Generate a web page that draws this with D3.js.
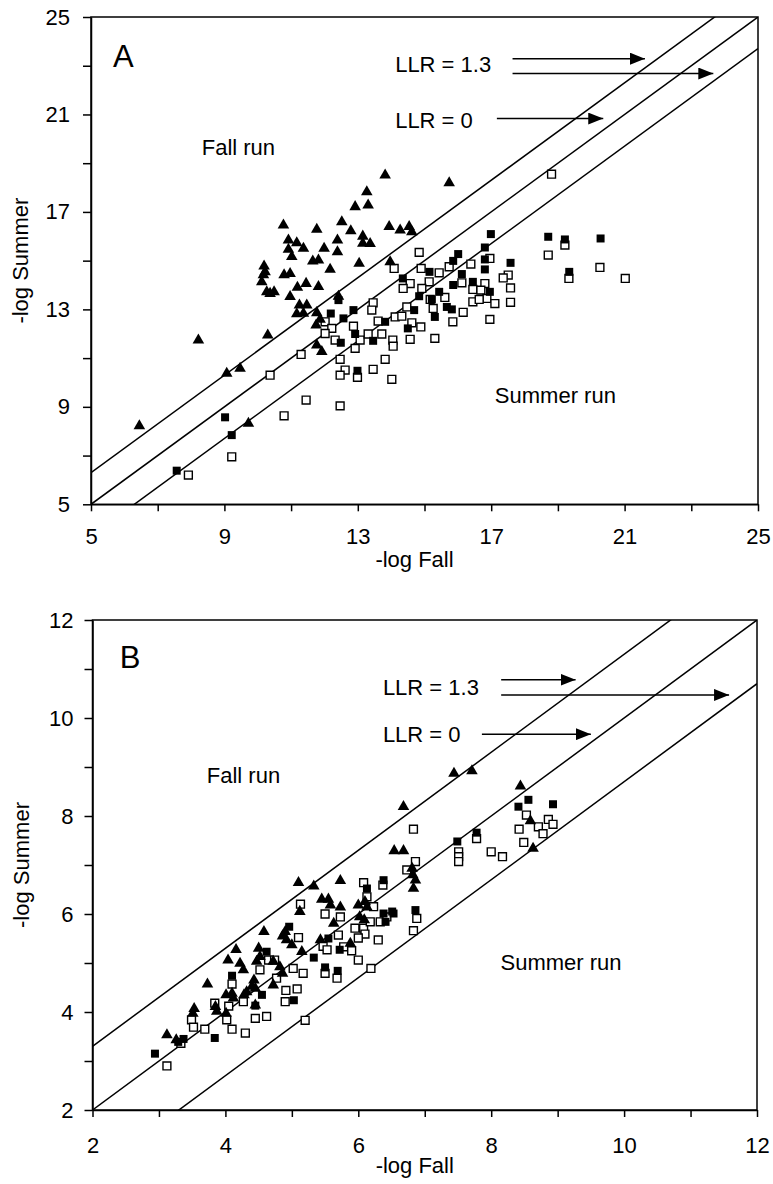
<!DOCTYPE html>
<html>
<head>
<meta charset="utf-8">
<script src="https://cdn.jsdelivr.net/npm/d3@7"></script>
<style>
  body { margin: 0; background: #fff; }
  svg text { font-family: Arial, "Liberation Sans", sans-serif; fill: #000; }
</style>
</head>
<body>
<svg id="chart" width="773" height="1184"></svg>
<script>
// ---- data: [ -log Fall, -log Summer ] ----
// panel A
const aTriangles = [[13.27,17.82],[12.92,17.21],[13.31,17.28],[10.77,16.46],[11.77,16.28],[12.52,16.59],[12.79,16.22],[13.15,16.0],[13.15,15.71],[12.39,15.84],[11.17,15.73],[11.37,15.5],[10.92,15.46],[11.02,15.16],[11.99,15.5],[12.39,15.36],[11.65,14.98],[11.82,15.02],[12.17,14.64],[13.04,14.89],[10.19,14.77],[10.22,14.54],[10.17,14.41],[10.12,14.13],[10.79,14.41],[10.97,14.47],[10.27,13.72],[10.37,13.65],[10.49,13.72],[11.19,13.9],[11.45,14.06],[11.82,13.93],[10.97,13.52],[11.25,13.17],[11.47,13.17],[11.17,12.81],[11.37,12.83],[11.77,12.86],[11.75,12.35],[11.87,12.59],[12.42,13.53],[10.3,11.94],[8.22,11.74],[11.77,11.53],[11.92,11.26],[13.97,14.95],[9.07,10.37],[9.47,10.58],[6.45,8.22],[9.72,8.32],[13.37,15.7],[13.94,16.39],[14.27,16.25],[14.54,16.39],[14.62,16.18],[13.82,18.51],[15.74,18.19],[10.92,15.84]];
const aFilled = [[12.42,13.38],[12.19,12.83],[12.57,12.63],[12.87,12.97],[12.49,11.63],[12.92,11.99],[13.46,11.71],[13.82,12.49],[12.99,10.48],[9.02,8.57],[9.22,7.84],[7.57,6.38],[16.99,16.09],[16.81,15.54],[16.01,15.27],[15.86,14.99],[16.81,15.05],[16.81,14.64],[17.58,14.91],[18.71,15.98],[19.21,15.87],[20.28,15.91],[19.34,14.54],[15.15,14.54],[16.12,14.45],[14.35,14.27],[15.86,14.0],[16.45,14.13],[16.96,13.72],[15.44,13.72],[14.84,13.54],[15.22,13.41],[15.67,13.1],[15.82,13.0],[15.31,12.69],[14.69,12.97],[14.5,12.22]];
const aOpen = [[13.46,13.27],[13.42,12.97],[13.61,12.52],[12.02,12.49],[12.22,12.22],[12.02,12.01],[12.32,11.74],[12.87,12.31],[13.07,11.74],[13.31,11.99],[13.72,11.99],[14.05,11.74],[14.06,11.49],[12.92,11.4],[11.3,11.15],[12.47,10.95],[12.62,10.51],[12.47,10.3],[12.99,10.21],[13.46,10.54],[13.82,10.95],[14.02,10.13],[10.37,10.3],[11.45,9.28],[10.79,8.63],[12.47,9.04],[9.22,6.95],[7.92,6.2],[14.12,12.69],[14.84,15.34],[14.09,14.68],[14.9,14.68],[15.44,14.5],[15.74,14.75],[16.39,14.86],[16.96,15.09],[18.71,15.23],[17.51,14.41],[17.36,14.29],[17.58,13.88],[17.58,13.29],[14.57,14.06],[15.14,14.13],[14.92,13.86],[14.36,13.86],[16.12,14.09],[16.81,14.06],[16.45,13.82],[16.69,13.79],[16.87,13.45],[17.11,13.24],[16.45,13.31],[16.64,13.41],[15.17,13.41],[15.61,13.49],[15.26,13.04],[16.16,12.88],[15.85,12.49],[16.96,12.59],[14.47,13.1],[14.32,12.72],[14.62,12.45],[14.89,12.28],[14.57,11.77],[15.31,11.81],[18.81,18.55],[19.21,15.64],[19.33,14.27],[20.26,14.72],[21.02,14.27]];

// panel B
const bTriangles = [[5.10,6.64],[5.33,6.57],[5.45,6.30],[5.12,6.05],[4.58,5.64],[4.86,5.55],[4.92,5.47],[5.00,5.37],[4.16,5.27],[4.04,5.06],[4.50,5.30],[4.52,5.13],[4.47,5.03],[4.22,4.99],[4.27,4.86],[4.72,5.03],[4.82,4.92],[4.86,4.79],[5.15,5.23],[5.43,5.47],[3.73,4.57],[4.43,4.65],[4.45,4.48],[4.01,4.35],[4.10,4.38],[4.12,4.28],[4.28,4.35],[4.72,4.55],[3.53,4.07],[3.51,3.97],[3.85,4.11],[3.87,4.01],[4.01,3.97],[4.45,4.14],[3.12,3.53],[3.26,3.43],[4.90,5.64],[5.88,5.40],[5.63,5.81],[5.58,6.18],[5.73,6.14],[6.00,6.18],[6.13,6.14],[4.32,4.41],[7.44,8.87],[7.71,8.92],[8.44,8.61],[6.68,8.19],[6.54,7.29],[6.68,7.29],[6.81,6.93],[6.82,6.80],[6.86,6.69],[6.83,6.52],[5.73,6.68],[5.55,6.30],[6.10,6.25],[6.02,5.94],[6.09,5.88],[8.59,7.90],[8.63,7.34],[4.40,4.52]];
const bFilled = [[4.96,5.74],[4.10,4.74],[5.33,5.11],[5.50,4.91],[4.55,4.35],[4.45,4.13],[5.03,4.24],[3.84,3.47],[3.29,3.39],[3.37,3.45],[2.94,3.15],[4.62,5.23],[5.72,5.27],[5.55,5.50],[6.38,6.01],[6.53,6.01],[6.38,6.69],[6.13,6.52],[6.51,6.05],[6.41,5.84],[6.86,6.08],[5.69,4.84],[7.49,7.48],[7.78,7.66],[8.41,8.19],[8.56,8.33],[8.93,8.24]];
const bOpen = [[5.13,6.20],[5.50,6.00],[5.10,5.52],[5.47,5.34],[5.53,5.27],[4.65,5.06],[4.74,5.06],[4.52,4.86],[4.77,4.69],[5.02,4.89],[5.17,4.79],[4.91,4.44],[5.08,4.47],[4.90,4.21],[4.10,4.57],[3.84,4.18],[4.05,4.12],[4.27,4.21],[4.45,3.87],[4.62,3.91],[5.20,3.83],[3.49,3.84],[3.52,3.69],[3.69,3.65],[4.10,3.65],[4.30,3.57],[3.12,2.90],[3.33,3.36],[5.70,5.57],[5.78,5.33],[5.95,5.71],[6.08,5.71],[6.10,5.59],[6.00,5.51],[6.00,5.06],[6.30,5.47],[6.18,5.84],[6.33,5.84],[6.43,5.94],[6.19,4.89],[5.68,4.69],[4.02,3.84],[6.83,7.73],[6.86,7.07],[6.73,6.90],[6.08,6.64],[6.37,6.59],[6.13,6.35],[6.23,6.15],[5.73,5.94],[6.88,5.91],[6.83,5.66],[5.90,5.25],[7.51,7.27],[7.51,7.17],[7.51,7.07],[7.78,7.54],[8.00,7.27],[8.17,7.17],[8.53,8.02],[8.42,7.73],[8.49,7.46],[8.71,7.78],[8.86,7.93],[8.93,7.83],[8.78,7.64],[5.50,4.79]];

// decision lines: summer = fall + offset
const llrOffsets = [1.3, 0, -1.3];

// ticks
const aTicks = d3.range(5, 25.01, 2);
const aLabelTicks = [5, 9, 13, 17, 21, 25];
const bTicks = d3.range(2, 12.01, 1);
const bLabelTicks = [2, 4, 6, 8, 10, 12];

// annotations (data units)
const aArrows = [{x1: 17.64, x2: 21.61, y: 23.29}, {x1: 17.64, x2: 23.66, y: 22.68}, {x1: 17.17, x2: 20.36, y: 20.83}];
const bArrows = [{x1: 8.15, x2: 9.27, y: 10.78}, {x1: 8.15, x2: 11.58, y: 10.47}, {x1: 7.86, x2: 9.50, y: 9.67}];
const aTexts = [{t: 'Fall run', x: 8.32, y: 19.33}, {t: 'Summer run', x: 17.11, y: 9.16}, {t: 'LLR = 1.3', x: 14.12, y: 22.73}, {t: 'LLR = 0', x: 14.12, y: 20.43}];
const bTexts = [{t: 'Fall run', x: 3.72, y: 8.67}, {t: 'Summer run', x: 8.14, y: 4.86}, {t: 'LLR = 1.3', x: 6.37, y: 10.47}, {t: 'LLR = 0', x: 6.37, y: 9.51}];

const svg = d3.select('#chart');

// arrow head
svg.append('defs').append('marker')
    .attr('id', 'arrowhead')
    .attr('markerUnits', 'userSpaceOnUse')
    .attr('markerWidth', 16).attr('markerHeight', 12)
    .attr('refX', 15).attr('refY', 6)
    .attr('orient', 'auto')
  .append('path')
    .attr('d', 'M0,0 L15,6 L0,12 Z')
    .attr('fill', '#000');

function drawPanel(p) {
    const x = d3.scaleLinear().domain(p.domain).range([p.left, p.right]);
    const y = d3.scaleLinear().domain(p.domain).range([p.bottom, p.top]);
    const g = svg.append('g');

    g.append('clipPath').attr('id', 'clip' + p.name)
      .append('rect')
        .attr('x', p.left).attr('y', p.top)
        .attr('width', p.right - p.left).attr('height', p.bottom - p.top);

    // LLR lines
    g.append('g').attr('clip-path', `url(#clip${p.name})`)
      .selectAll('line').data(llrOffsets).join('line')
        .attr('x1', x(p.domain[0])).attr('y1', d => y(p.domain[0] + d))
        .attr('x2', x(p.domain[1])).attr('y2', d => y(p.domain[1] + d))
        .attr('stroke', '#000').attr('stroke-width', 1.5);

    // frame
    g.append('rect')
        .attr('x', p.left).attr('y', p.top)
        .attr('width', p.right - p.left).attr('height', p.bottom - p.top)
        .attr('fill', 'none').attr('stroke', '#000').attr('stroke-width', 1.5);

    const fmt = d => p.labelTicks.includes(d) ? d : '';

    const xAxis = g.append('g')
        .attr('transform', `translate(0,${p.bottom})`)
        .call(d3.axisBottom(x).tickValues(p.ticks).tickFormat(fmt)
            .tickSize(7).tickSizeOuter(0).tickPadding(p.xPad));
    const yAxis = g.append('g')
        .attr('transform', `translate(${p.left},0)`)
        .call(d3.axisLeft(y).tickValues(p.ticks).tickFormat(fmt)
            .tickSize(8).tickSizeOuter(0).tickPadding(p.yPad));
    [xAxis, yAxis].forEach(a => {
        a.selectAll('path, line').attr('stroke', '#000').attr('stroke-width', 1.5);
        a.selectAll('text').attr('font-size', 22).attr('font-family', 'Arial, "Liberation Sans", sans-serif');
    });

    // axis titles
    g.append('text')
        .attr('x', (p.left + p.right) / 2 - 10).attr('y', p.xTitleY)
        .attr('text-anchor', 'middle').attr('font-size', 22)
        .text('-log Fall');
    g.append('text')
        .attr('transform', `translate(${p.yTitleX},${(p.top + p.bottom) / 2}) rotate(-90)`)
        .attr('text-anchor', 'middle').attr('font-size', 22)
        .text('-log Summer');

    // points
    const pts = g.append('g');
    const sq = d3.symbol().type(d3.symbolSquare);
    pts.selectAll('path.open').data(p.open).join('path')
        .attr('class', 'open')
        .attr('d', sq.size(62)())
        .attr('transform', d => `translate(${x(d[0])},${y(d[1])})`)
        .attr('fill', '#fff').attr('stroke', '#000').attr('stroke-width', 1.4);
    pts.selectAll('path.filled').data(p.filled).join('path')
        .attr('class', 'filled')
        .attr('d', d3.symbol().type(d3.symbolSquare).size(64)())
        .attr('transform', d => `translate(${x(d[0])},${y(d[1])})`)
        .attr('fill', '#000');
    pts.selectAll('path.tri').data(p.triangles).join('path')
        .attr('class', 'tri')
        .attr('d', d3.symbol().type(d3.symbolTriangle).size(58)())
        .attr('transform', d => `translate(${x(d[0])},${y(d[1])})`)
        .attr('fill', '#000');

    // arrows
    g.selectAll('line.arrow').data(p.arrows).join('line')
        .attr('class', 'arrow')
        .attr('x1', d => x(d.x1)).attr('x2', d => x(d.x2))
        .attr('y1', d => y(d.y)).attr('y2', d => y(d.y))
        .attr('stroke', '#000').attr('stroke-width', 1.5)
        .attr('marker-end', 'url(#arrowhead)');

    // labels
    g.selectAll('text.note').data(p.texts).join('text')
        .attr('class', 'note')
        .attr('x', d => x(d.x)).attr('y', d => y(d.y))
        .attr('font-size', 22)
        .text(d => d.t);

    g.append('text')
        .attr('x', x(p.letter.x)).attr('y', y(p.letter.y))
        .attr('font-size', 31)
        .text(p.name);
}

drawPanel({
    name: 'A', domain: [5, 25], ticks: aTicks, labelTicks: aLabelTicks,
    left: 91, right: 758, top: 17, bottom: 504.3,
    xPad: 17, yPad: 13, xTitleY: 567, yTitleX: 28,
    triangles: aTriangles, filled: aFilled, open: aOpen,
    arrows: aArrows, texts: aTexts, letter: {x: 5.66, y: 22.94}
});

drawPanel({
    name: 'B', domain: [2, 12], ticks: bTicks, labelTicks: bLabelTicks,
    left: 92.5, right: 757, top: 620, bottom: 1110,
    xPad: 20, yPad: 11, xTitleY: 1173, yTitleX: 29,
    triangles: bTriangles, filled: bFilled, open: bOpen,
    arrows: bArrows, texts: bTexts, letter: {x: 2.41, y: 11.02}
});
</script>
</body>
</html>
